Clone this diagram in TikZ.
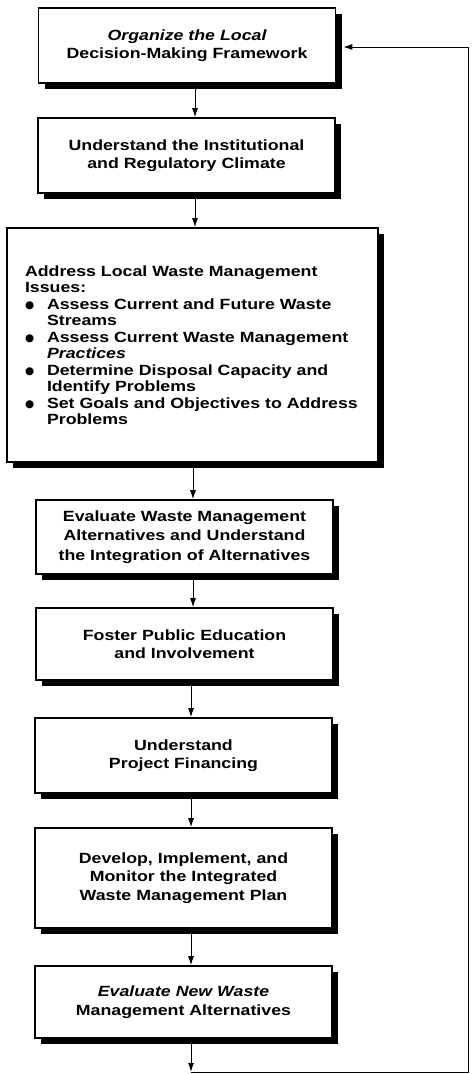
\documentclass[tikz,border=0pt]{standalone}
\usepackage{fontspec}
\setmainfont{Liberation Sans}[FakeStretch=1.2]
\newfontfamily\bulfont{DejaVu Sans}
\usetikzlibrary{arrows.meta,shadows}

% bullet for the issue list
\newcommand{\issuebul}{\makebox[22pt][l]{\raisebox{1pt}{\bulfont\fontsize{10.5}{10.5}\selectfont ●}}}

\begin{document}
\begin{tikzpicture}[x=1pt, y=-1pt, every node/.style={font=\fontsize{14.8}{18.5}\selectfont\bfseries}, >={Latex[length=9pt,width=6pt]},
	box/.style={draw, line width=1.6pt, fill=white, align=center, inner sep=0pt, minimum width=297pt,
		drop shadow={shadow xshift=6pt, shadow yshift=-6pt, fill=black, opacity=1}},
	flow/.style={->, line width=1pt}]
	\useasboundingbox (0,0) rectangle (472,1074);
	\node[box, minimum height=75pt] (org) at (187,45.5) {\itshape Organize the Local\\Decision-Making Framework};
	\node[box, minimum height=75pt] (climate) at (186.5,155.5) {Understand the Institutional\\and Regulatory Climate};
	\node[box, minimum width=371pt, minimum height=234pt, align=left, text width=335pt, font=\fontsize{14.8}{16.5}\selectfont\bfseries] (issues) at (192.5,345) {Address Local Waste Management\\Issues:\\
		\issuebul Assess Current and Future Waste\\\hspace*{22pt}Streams\\
		\issuebul Assess Current Waste Management\\\hspace*{22pt}\textit{Practices}\\
		\issuebul Determine Disposal Capacity and\\\hspace*{22pt}Identify Problems\\
		\issuebul Set Goals and Objectives to Address\\\hspace*{22pt}Problems};
	\node[box, minimum height=74pt, font=\fontsize{14.8}{19.5}\selectfont\bfseries] (alternatives) at (184.5,537) {Evaluate Waste Management\\Alternatives and Understand\\the Integration of Alternatives};
	\node[box, minimum height=72pt] (education) at (184.5,644) {Foster Public Education\\and Involvement};
	\node[box, minimum height=75pt] (financing) at (183.5,755.5) {Understand\\Project Financing};
	\node[box, minimum height=100pt] (plan) at (183.5,878) {Develop, Implement, and\\Monitor the Integrated\\Waste Management Plan};
	\node[box, minimum height=72pt] (newalt) at (183.5,1002) {\textit{Evaluate New Waste}\\Management Alternatives};
	% arrow spines
	\coordinate (spinetop) at (195,0);
	\coordinate (spinemid) at (193,0);
	\coordinate (spinelow) at (191,0);
	\coordinate (loopbot) at (191,1072);
	\coordinate (loopright) at (468,1072);
	\draw[flow] (org.south -| spinetop) -- (climate.north -| spinetop);
	\draw[flow] (climate.south -| spinetop) -- (issues.north -| spinetop);
	\draw[flow] (issues.south -| spinemid) -- (alternatives.north -| spinemid);
	\draw[flow] (alternatives.south -| spinemid) -- (education.north -| spinemid);
	\draw[flow] (education.south -| spinelow) -- (financing.north -| spinelow);
	\draw[flow] (financing.south -| spinelow) -- (plan.north -| spinelow);
	\draw[flow] (plan.south -| spinelow) -- (newalt.north -| spinelow);
	\draw[flow] (newalt.south -| spinelow) -- (loopbot);
	% feedback loop
	\draw[flow] (loopbot) -- (loopright) |- ([xshift=7pt,yshift=-1.5pt]org.east);
\end{tikzpicture}
\end{document}
